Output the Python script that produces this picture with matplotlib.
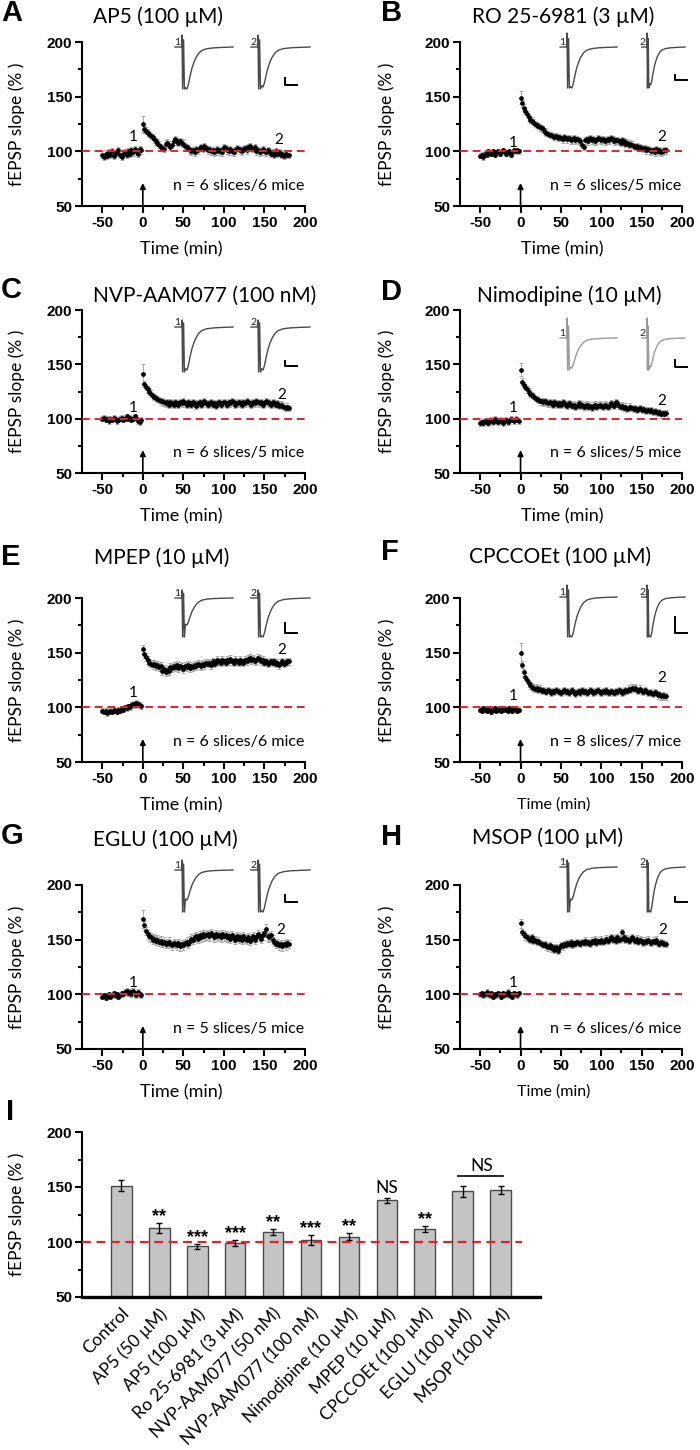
import numpy as np
import matplotlib
matplotlib.use("Agg")
import matplotlib.pyplot as plt

plt.rcParams["font.family"] = ["Lato", "DejaVu Sans"]

# ---------------------------------------------------------------- time courses
PANELS = ["A", "B", "C", "D", "E", "F", "G", "H"]
TITLES = ["AP5 (100 µM)", "RO 25-6981 (3 µM)", "NVP-AAM077 (100 nM)", "Nimodipine (10 µM)",
          "MPEP (10 µM)", "CPCCOEt (100 µM)", "EGLU (100 µM)", "MSOP (100 µM)"]
N_TEXT = ["n = 6 slices/6 mice", "n = 6 slices/5 mice", "n = 6 slices/5 mice",
          "n = 6 slices/5 mice", "n = 6 slices/6 mice", "n = 8 slices/7 mice",
          "n = 5 slices/5 mice", "n = 6 slices/6 mice"]

T_BASE = np.arange(-50, 0, 2)      # baseline samples (min)
T_POST = np.arange(0, 181, 2)      # after induction (min)

BASE_A = [97, 95, 98, 96, 99, 97, 100, 96, 98, 99, 101, 97, 95, 98, 99,
          97, 100, 98, 101, 99, 102, 100, 98, 102, 101]
POST_A = [125, 120, 119, 117, 116, 114, 113, 111, 109, 108,
          106, 104, 103, 102, 107, 108, 106, 104, 106, 109,
          111, 109, 108, 109, 108, 107, 105, 104, 103, 101,
          100, 101, 99, 102, 101, 103, 104, 102, 105, 103,
          101, 102, 100, 101, 99, 100, 102, 100, 101, 99,
          104, 103, 101, 100, 102, 100, 99, 101, 103, 102,
          101, 100, 102, 103, 101, 104, 105, 103, 102, 104,
          100, 101, 99, 100, 102, 100, 99, 101, 100, 98,
          99, 97, 100, 98, 99, 97, 98, 96, 98, 97,
          97]

BASE_B = [96, 97, 95, 98, 97, 100, 99, 98, 100, 97, 99, 100, 98, 99, 101,
          100, 98, 99, 100, 97, 99, 101, 100, 101, 100]
POST_B = [149, 144, 140, 137, 134, 131, 129, 128, 127, 125,
          124, 123, 122, 121, 120, 118, 117, 116, 115, 115,
          114, 113, 114, 112, 113, 112, 111, 113, 112, 111,
          112, 110, 111, 112, 110, 111, 110, 109, 106, 104,
          110, 111, 109, 112, 110, 111, 109, 110, 112, 111,
          110, 111, 109, 110, 111, 110, 112, 111, 109, 110,
          110, 109, 108, 110, 109, 107, 108, 106, 107, 106,
          105, 104, 105, 103, 104, 103, 102, 103, 101, 102,
          101, 100, 101, 99, 102, 100, 101, 99, 100, 101,
          101]

BASE_C = [100, 101, 99, 100, 98, 100, 99, 101, 100, 98, 99, 100, 101, 99, 100,
          102, 100, 101, 99, 100, 102, 101, 98, 97, 99]
POST_C = [141, 132, 129, 127, 125, 123, 121, 120, 119, 118,
          117, 116, 116, 115, 114, 115, 113, 115, 114, 113,
          115, 114, 113, 115, 114, 116, 114, 113, 115, 114,
          113, 115, 114, 112, 114, 115, 113, 114, 116, 114,
          113, 114, 115, 113, 114, 112, 114, 115, 113, 114,
          115, 114, 113, 115, 114, 116, 115, 113, 114, 115,
          114, 113, 115, 114, 116, 115, 114, 113, 115, 114,
          116, 115, 114, 115, 113, 114, 116, 115, 114, 113,
          115, 114, 113, 114, 112, 113, 112, 111, 110, 111,
          110]

BASE_D = [96, 97, 96, 98, 97, 96, 98, 99, 97, 100, 98, 97, 99, 98, 96,
          98, 99, 97, 98, 100, 99, 98, 100, 99, 98]
POST_D = [145, 134, 131, 129, 127, 125, 123, 122, 121, 119,
          118, 117, 116, 116, 115, 116, 115, 114, 115, 114,
          113, 115, 114, 113, 114, 113, 115, 114, 113, 112,
          114, 113, 112, 113, 111, 112, 114, 112, 113, 111,
          112, 113, 111, 112, 110, 112, 113, 111, 112, 113,
          112, 111, 113, 112, 111, 112, 114, 113, 112, 115,
          114, 112, 111, 112, 110, 111, 109, 110, 111, 110,
          109, 110, 108, 109, 110, 108, 109, 108, 107, 108,
          107, 108, 106, 107, 106, 105, 106, 104, 105, 104,
          105]

BASE_E = [97, 96, 97, 95, 96, 97, 96, 98, 97, 96, 98, 97, 99, 98, 100,
          99, 101, 100, 102, 103, 102, 104, 103, 102, 101]
POST_E = [153, 149, 146, 143, 141, 140, 139, 140, 138, 139,
          137, 138, 133, 135, 132, 134, 133, 137, 136, 138,
          137, 139, 136, 138, 137, 135, 138, 137, 139, 136,
          138, 137, 139, 138, 140, 139, 138, 140, 139, 141,
          140, 141, 139, 142, 140, 141, 143, 142, 141, 143,
          142, 141, 143, 142, 144, 142, 141, 143, 142, 141,
          143, 142, 141, 143, 142, 144, 145, 143, 144, 142,
          143, 145, 144, 142, 143, 141, 142, 140, 141, 142,
          141, 142, 140, 141, 139, 141, 142, 140, 141, 142,
          142]

BASE_F = [98, 97, 99, 98, 97, 99, 98, 96, 98, 99, 97, 98, 99, 97, 98,
          99, 98, 97, 99, 98, 97, 99, 98, 97, 98]
POST_F = [150, 139, 132, 128, 125, 122, 120, 119, 118, 117,
          118, 116, 117, 115, 116, 115, 114, 116, 115, 113,
          115, 114, 116, 115, 114, 113, 115, 116, 114, 115,
          113, 115, 116, 114, 112, 114, 115, 113, 116, 114,
          115, 113, 114, 116, 115, 113, 114, 115, 116, 114,
          113, 115, 114, 116, 114, 113, 115, 114, 113, 115,
          114, 116, 115, 113, 114, 116, 115, 117, 116, 118,
          117, 118, 116, 115, 117, 115, 114, 116, 115, 113,
          114, 113, 112, 114, 113, 111, 112, 110, 111, 110,
          110]

BASE_G = [98, 99, 97, 99, 100, 98, 99, 101, 99, 100, 98, 99, 101, 100, 102,
          103, 101, 102, 100, 103, 101, 99, 102, 100, 99]
POST_G = [169, 163, 158, 155, 153, 152, 150, 151, 149, 150,
          148, 149, 147, 148, 146, 147, 148, 146, 145, 147,
          146, 145, 147, 144, 146, 145, 147, 148, 146, 149,
          151, 150, 152, 153, 151, 154, 152, 155, 153, 154,
          155, 153, 156, 154, 152, 155, 153, 154, 152, 155,
          153, 154, 152, 153, 151, 154, 152, 150, 153, 151,
          152, 150, 153, 151, 150, 152, 149, 151, 153, 150,
          152, 155, 153, 151, 154, 156, 160, 153, 152, 154,
          150, 148, 146, 147, 145, 146, 144, 146, 145, 147,
          146]

BASE_H = [100, 101, 99, 100, 102, 100, 99, 101, 98, 100, 99, 101, 100, 98, 101,
          99, 100, 102, 99, 100, 98, 101, 100, 99, 101]
POST_H = [165, 157, 155, 153, 152, 151, 150, 152, 149, 150,
          148, 149, 147, 146, 145, 146, 144, 143, 145, 142,
          143, 141, 143, 140, 142, 145, 144, 146, 145, 147,
          146, 148, 145, 147, 146, 148, 147, 146, 148, 147,
          149, 147, 148, 146, 149, 148, 150, 147, 149, 148,
          150, 148, 149, 151, 149, 150, 152, 150, 151, 149,
          152, 150, 151, 157, 152, 150, 151, 149, 150, 152,
          150, 149, 151, 148, 150, 149, 147, 149, 148, 150,
          148, 147, 149, 148, 150, 147, 146, 148, 147, 146,
          146]

BASE = [BASE_A, BASE_B, BASE_C, BASE_D, BASE_E, BASE_F, BASE_G, BASE_H]
POST = [POST_A, POST_B, POST_C, POST_D, POST_E, POST_F, POST_G, POST_H]

# SEM (%) : baseline, first post point, remaining post points
SEM_BASE = [3, 2.5, 2.5, 2.5, 2.5, 2.5, 2.5, 2.5]
SEM_FIRST = [7, 6, 9, 6, 4, 9, 8, 4]
SEM_POST = [3, 3, 3, 3, 3.5, 3, 4, 3]

# "1" / "2" sample markers (time, value)
MARK1 = [(-12, 113), (-9, 108), (-12, 110), (-9, 110), (-12, 113), (-9, 110), (-12, 110), (-9, 110)]
MARK2 = [(168, 110), (175, 113), (171, 122), (175, 116), (171, 152), (175, 127), (170, 159), (176, 159)]

# ---------------------------------------------------------------- bar summary
BAR_LABELS = ["Control", "AP5 (50 µM)", "AP5 (100 µM)", "Ro 25-6981 (3 µM)",
              "NVP-AAM077 (50 nM)", "NVP-AAM077 (100 nM)", "Nimodipine (10 µM)",
              "MPEP (10 µM)", "CPCCOEt (100 µM)", "EGLU (100 µM)", "MSOP (100 µM)"]
BAR_MEAN = [151, 113, 96, 99, 109, 102, 105, 138, 112, 146, 147]
BAR_SEM = [5, 4.5, 2, 3, 2.7, 4.4, 3.2, 2.4, 2.6, 5, 3.5]
BAR_SIG = ["", "**", "***", "***", "**", "***", "**", "NS", "**", "", ""]

# ---------------------------------------------------------------- EPSP inset shape
ART_T = [-7, -0.5, 0, 0.6, 1.6, 2.4]          # stimulus artefact
ART_LEVEL = [0, 0, 1, -1, 0.6, -1]
EPSP_T = [3.5, 5, 6.5, 8, 10, 12, 14, 17, 20, 25, 32, 40, 51]
EPSP_V = [-0.97, -1.0, -0.88, -0.7, -0.5, -0.36, -0.25, -0.14, -0.08, -0.04, -0.02, -0.01, 0.0]

# per-panel inset geometry (pixels)
TR_BASE_Y = [47, 47, 327, 338, 598, 597, 870, 867]
TR_ART_UP = [12, 14, 7, 20, 8, 12, 10, 7]
TR_ART_DN = [42, 41, 45, 32, 39, 40, 42, 45]
TR_AMP1 = [42, 41, 43, 30, 27, 40, 30, 33]
TR_AMP2 = [40, 38, 43, 29, 39, 40, 42, 45]
TR_COLOR = ["#4a4a4a", "#4a4a4a", "#4a4a4a", "#9a9a9a", "#4a4a4a", "#4a4a4a", "#4a4a4a", "#4a4a4a"]
SB_Y = [(78, 85), (75, 80), (361, 366), (360, 367), (623, 633), (617, 633), (895, 902), (897, 902)]

W, H = 700, 1450
COL_X = [(82, 305), (460, 682)]
ROW_Y = [(42, 206), (310, 473), (598, 762), (885, 1049)]
TITLE_XY = [(158, 17), (563, 17), (205, 296), (569, 296), (162, 558), (560, 557), (165, 840), (548, 838)]
LETTER_XY = [(1, 13), (381, 13), (1, 290), (381, 292), (1, 557), (381, 552), (1, 836), (381, 837)]
TICK_FONT = dict(fontfamily="Liberation Sans", fontweight="bold", fontsize=11)
RED = "#e8202a"


def px_rect(left, right, top, bottom):
    return [left / W, 1 - bottom / H, (right - left) / W, (bottom - top) / H]


def style_axis(ax):
    for s in ("top", "right"):
        ax.spines[s].set_visible(False)
    for s in ("left", "bottom"):
        ax.spines[s].set_linewidth(1.5)
    ax.tick_params(which="major", direction="out", length=5, width=1.5, pad=2)
    ax.tick_params(which="minor", direction="out", length=3, width=1.5)


def draw_trace(cv, x0, width, base_y, up, dn, amp, color, label):
    sx = 51.0 / width
    xs = [x0 + t / sx for t in ART_T + EPSP_T]
    ys = [base_y - lv * up if lv > 0 else base_y - lv * dn for lv in ART_LEVEL]
    ys += [base_y - v * amp for v in EPSP_V]
    cv.plot(xs, ys, color=color, lw=1.0, solid_joinstyle="round")
    cv.text(x0 - 2, base_y - 0.5, label, fontsize=7.5, ha="right", va="bottom", color="#222")


def main():
    fig = plt.figure(figsize=(W / 100, H / 100), dpi=100)
    cv = fig.add_axes([0, 0, 1, 1], zorder=10)
    cv.set_xlim(0, W); cv.set_ylim(H, 0); cv.axis("off")
    cv.patch.set_alpha(0)

    for i, p in enumerate(PANELS):
        col, row = i % 2, i // 2
        ax = fig.add_axes(px_rect(*COL_X[col], *ROW_Y[row]))
        style_axis(ax)
        base, post = np.array(BASE[i]), np.array(POST[i])
        sem_post = np.r_[SEM_FIRST[i], np.repeat(SEM_POST[i], len(post) - 1)]
        ekw = dict(fmt="none", ecolor="#a0a0a0", elinewidth=0.6, capsize=1.2, capthick=0.6, zorder=2)
        ax.errorbar(T_BASE, base, yerr=SEM_BASE[i], **ekw)
        ax.errorbar(T_POST, post, yerr=sem_post, **ekw)
        ax.plot(T_BASE, base, "o", color="k", ms=3.4, mew=0, zorder=3)
        ax.plot(T_POST, post, "o", color="k", ms=3.4, mew=0, zorder=3)
        ax.plot([-75, 200], [100, 100], color=RED, lw=1.4, ls=(0, (4, 2.5)), zorder=5)

        ax.set_xlim(-75, 200); ax.set_ylim(50, 200)
        ax.set_xticks([-50, 0, 50, 100, 150, 200])
        ax.set_xticklabels(["-50", "0", "50", "100", "150", "200"], **TICK_FONT)
        ax.set_xticks([-25, 25, 75, 125, 175], minor=True)
        ax.set_yticks([50, 100, 150, 200])
        ax.set_yticklabels(["50", "100", "150", "200"], **TICK_FONT)
        ax.set_yticks([75, 125, 175], minor=True)

        ax.set_ylabel("fEPSP slope (% )", fontsize=12.5)
        ax.yaxis.set_label_coords(-0.256 if col == 0 else -0.293, 0.5)
        small = p in ("F", "H")
        ax.set_xlabel("Time (min)", fontsize=11.5 if small else 13)
        ax.xaxis.set_label_coords(0.42 if small else (0.444 if col == 0 else 0.46), -0.215)

        ax.annotate("", xy=(0, 71), xytext=(0, 50),
                    arrowprops=dict(arrowstyle="-|>", color="k", lw=1.2, mutation_scale=8,
                                    shrinkA=0, shrinkB=0))
        ax.text(199, 68, N_TEXT[i], fontsize=11.5, ha="right", va="center")
        ax.text(*MARK1[i], "1", fontsize=11, ha="center", va="center")
        ax.text(*MARK2[i], "2", fontsize=11, ha="center", va="center")

        # title and panel letter
        cv.text(*TITLE_XY[i], TITLES[i], fontsize=15, ha="center", va="center")
        cv.text(*LETTER_XY[i], p, fontfamily="Liberation Sans", fontweight="bold",
                fontsize=21, ha="left", va="center")

        # EPSP insets + scale bar
        if col == 0:
            a1, w1, a2, w2, sb = 182, 51, 258, 52, (285, 297)
        else:
            a1, w1, a2, w2, sb = 567, 50, 647, 38, (675, 687)
        draw_trace(cv, a1, w1, TR_BASE_Y[i], TR_ART_UP[i], TR_ART_DN[i], TR_AMP1[i], TR_COLOR[i], "1")
        draw_trace(cv, a2, w2, TR_BASE_Y[i], TR_ART_UP[i], TR_ART_DN[i], TR_AMP2[i], TR_COLOR[i], "2")
        y1, y2 = SB_Y[i]
        cv.plot([sb[0], sb[0], sb[1]], [y1, y2, y2], color="k", lw=1.4)

    # ------------------------------------------------------------ panel I
    ax = fig.add_axes(px_rect(82, 540, 1132, 1297))
    style_axis(ax)
    ax.spines["bottom"].set_linewidth(2.4)
    x = np.arange(len(BAR_MEAN))
    ax.bar(x, BAR_MEAN, width=0.55, bottom=0, color="#c4c4c4", edgecolor="#4a4a4a", lw=1.0, zorder=2)
    ax.errorbar(x, BAR_MEAN, yerr=BAR_SEM, fmt="none", ecolor="k", elinewidth=1.0,
                capsize=2.5, capthick=1.0, zorder=3)
    ax.plot([-1.03, 10.55], [100, 100], color=RED, lw=1.6, ls=(0, (4, 2.5)), zorder=4)
    for xi, m, s, sig in zip(x, BAR_MEAN, BAR_SEM, BAR_SIG):
        if sig == "NS":
            ax.text(xi, m + s + 1.5, sig, fontsize=12.5, ha="center", va="bottom")
        elif sig:
            ax.text(xi, m + s - 2, sig, fontfamily="Liberation Sans", fontweight="bold",
                    fontsize=13, ha="center", va="bottom")
    ax.plot([8.88, 10.05], [160, 160], color="k", lw=1.2)
    ax.text(9.5, 162, "NS", fontsize=12.5, ha="center", va="bottom")

    ax.set_xlim(-1.03, 11.03); ax.set_ylim(50, 200)
    ax.set_xticks(x)
    ax.set_xticklabels(BAR_LABELS, rotation=45, ha="right", va="top",
                       rotation_mode="anchor", fontsize=12.5)
    ax.tick_params(axis="x", length=0, pad=6)
    ax.set_yticks([50, 100, 150, 200])
    ax.set_yticklabels(["50", "100", "150", "200"], **TICK_FONT)
    ax.set_yticks([75, 125, 175], minor=True)
    ax.set_ylabel("fEPSP slope (% )", fontsize=12.5)
    ax.yaxis.set_label_coords(-0.124, 0.5)
    cv.text(6, 1112, "I", fontfamily="Liberation Sans", fontweight="bold",
            fontsize=21, ha="left", va="center")

    fig.savefig("out.png", dpi=100)


if __name__ == "__main__":
    main()
